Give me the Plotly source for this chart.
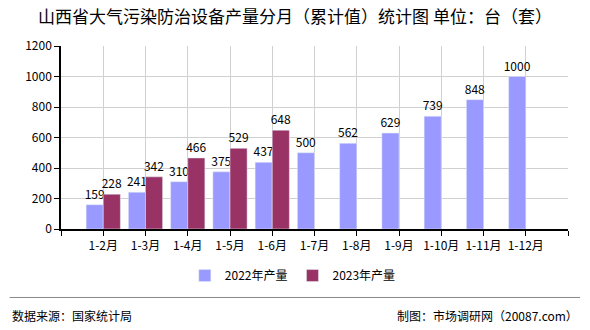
import plotly.graph_objects as go

categories = ["1-2月", "1-3月", "1-4月", "1-5月", "1-6月", "1-7月",
              "1-8月", "1-9月", "1-10月", "1-11月", "1-12月"]
values_2022 = [159, 241, 310, 375, 437, 500, 562, 629, 739, 848, 1000]
values_2023 = [228, 342, 466, 529, 648, None, None, None, None, None, None]
y_ticks = [0, 200, 400, 600, 800, 1000, 1200]

W, H = 590, 330
L, R, T, B = 61.3, 568, 45.7, 229.3
pw, ph = R - L, B - T

def px(x):
    return (x - L) / pw

def py(y):
    return (B - y) / ph

FONT = "Noto Sans CJK SC, DejaVu Sans, sans-serif"
xs = list(range(len(categories)))

fig = go.Figure()
fig.add_trace(go.Bar(
    x=xs, y=values_2022, name="2022年产量", marker_color="#9999ff",
    text=[str(v) for v in values_2022], textposition="outside", constraintext="none",
    textfont=dict(size=12, color="#000000", family=FONT), cliponaxis=False,
))
fig.add_trace(go.Bar(
    x=xs, y=values_2023, name="2023年产量", marker_color="#993366",
    text=[str(v) if v is not None else "" for v in values_2023], textposition="outside",
    constraintext="none",
    textfont=dict(size=12, color="#000000", family=FONT), cliponaxis=False,
))

fig.update_layout(
    width=W, height=H,
    margin=dict(l=L, r=W - R, t=T, b=H - B),
    paper_bgcolor="white", plot_bgcolor="white",
    barmode="group", bargap=0.19, bargroupgap=0,
    font=dict(family=FONT, size=12, color="#000000"),
    title=dict(text="山西省大气污染防治设备产量分月（累计值）统计图 单位：台（套）",
               x=0.5, xanchor="center", y=1 - 17 / H, yanchor="middle", yref="container",
               font=dict(size=17, color="#000000", family=FONT)),
    showlegend=True,
    legend=dict(orientation="h", x=px(293), xanchor="center", y=py(276), yanchor="middle",
                font=dict(size=12, family=FONT), itemwidth=30, traceorder="normal"),
)
fig.update_xaxes(
    range=[-1, len(categories)], tickmode="array",
    tickvals=list(range(-1, len(categories) + 1)),
    ticktext=[""] + categories + [""],
    showgrid=True, gridcolor="#d0d0d0", gridwidth=1,
    showline=True, linecolor="#000000", linewidth=1.5,
    ticks="outside", ticklen=5, tickcolor="#000000",
    tickfont=dict(size=12, family=FONT), zeroline=False,
)
fig.update_yaxes(
    range=[0, 1200], tickmode="array", tickvals=y_ticks,
    showgrid=True, gridcolor="#d0d0d0", gridwidth=1,
    showline=True, linecolor="#000000", linewidth=1.5,
    ticks="outside", ticklen=5, tickcolor="#000000",
    tickfont=dict(size=12, family=FONT), zeroline=False,
)

fig.add_shape(type="line", xref="paper", yref="paper",
              x0=px(10), x1=px(580), y0=py(298), y1=py(298),
              line=dict(color="#888888", width=1))
fig.add_annotation(text="数据来源：国家统计局", xref="paper", yref="paper",
                   x=px(10), y=py(316), xanchor="left", yanchor="middle",
                   showarrow=False, font=dict(size=12, color="#000000", family=FONT))
fig.add_annotation(text="制图：市场调研网（20087.com）", xref="paper", yref="paper",
                   x=px(580), y=py(316), xanchor="right", yanchor="middle",
                   showarrow=False, font=dict(size=12, color="#000000", family=FONT))

fig.write_html("out.html")
